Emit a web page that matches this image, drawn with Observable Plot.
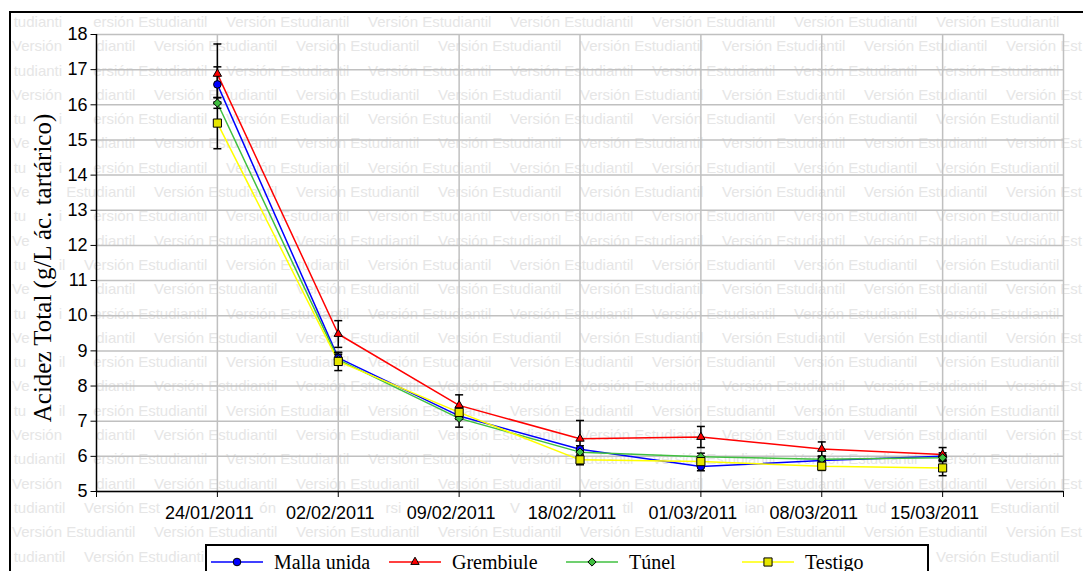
<!DOCTYPE html>
<html><head><meta charset="utf-8">
<script src="https://cdn.jsdelivr.net/npm/d3@7"></script>
<script src="https://cdn.jsdelivr.net/npm/@observablehq/plot@0.6"></script>
<style>
html,body{margin:0;padding:0;background:#fff;overflow:hidden;width:1083px;height:571px;}
#stage{position:relative;width:1083px;height:571px;overflow:hidden;background:#fff;}
#wm{position:absolute;left:0;top:0;}
#frame{position:absolute;left:9px;top:11px;width:1200px;height:700px;border-left:2px solid #000;border-top:2px solid #000;}
#chart{position:absolute;left:0;top:0;}
#title{position:absolute;left:0;top:0;pointer-events:none;}
#legend{position:absolute;left:205px;top:544px;width:720px;height:60px;border:2px solid #000;background:#fff;}
.item{position:absolute;top:3px;height:26px;display:flex;align-items:center;font-family:'Liberation Serif','Times New Roman',serif;font-size:20px;color:#000;white-space:nowrap;}
.item svg{margin-right:11px;}
</style></head><body>
<div id="stage">
  <svg id="wm" width="1083" height="571"></svg>
  <div id="frame"></div>
  <div id="chart"></div>
  <svg id="title" width="1083" height="571"></svg>
  <div id="legend"></div>
</div>
<script>
// ---- data ----
const dates = ["24/01/2011","02/02/2011","09/02/2011","18/02/2011","01/03/2011","08/03/2011","15/03/2011"];
const seriesNames = ["Malla unida","Grembiule","Túnel","Testigo"];
const mallaUnida = [16.58, 8.80, 7.15, 6.20, 5.71, 5.88, 6.00];
const grembiule  = [16.88, 9.48, 7.45, 6.50, 6.55, 6.21, 6.05];
const tunel      = [16.05, 8.75, 7.08, 6.12, 5.99, 5.92, 5.96];
const testigo    = [15.48, 8.70, 7.25, 5.90, 5.85, 5.72, 5.67];
const mallaUnidaErr = [0.50, 0.15, 0.10, 0.10, 0.12, 0.10, 0.10];
const grembiuleErr  = [0.85, 0.38, 0.30, 0.52, 0.30, 0.20, 0.20];
const tunelErr      = [0.15, 0.15, 0.25, 0.10, 0.10, 0.08, 0.08];
const testigoErr    = [0.73, 0.26, 0.15, 0.14, 0.10, 0.12, 0.22];
const yTicks = [5,6,7,8,9,10,11,12,13,14,15,16,17,18];
const yTitle = "Acidez Total (g/L ác. tartárico)";
const watermark = "Versión Estudiantil";

// ---- styles ----
const lineColors = ["#0000ff","#ff0000","#40c040","#ffff00"];
const fillColors = ["#0000ff","#ff0000","#40c040","#e6e600"];
const symbols = ["circle","triangle","diamond2","square"];
const symbolR = [3.8, 3.1, 3.7, 4.6];
const d3Symbols = [d3.symbolCircle, d3.symbolTriangle, d3.symbolDiamond2, d3.symbolSquare];

const valuesList = [mallaUnida, grembiule, tunel, testigo];
const errList = [mallaUnidaErr, grembiuleErr, tunelErr, testigoErr];
const rows = [];
seriesNames.forEach((name, si) => valuesList[si].forEach((v, i) =>
  rows.push({series: name, si, x: i + 1, v, e: errList[si][i]})));

// ---- chart ----
const capSymbol = {draw(ctx, size){ const w = Math.sqrt(size/Math.PI); ctx.moveTo(-w,0); ctx.lineTo(w,0); }};
const gridStyle = {stroke:"#c0c0c0", strokeOpacity:1, strokeWidth:1.5};
const marks = [
  Plot.gridY(yTicks, gridStyle),
  Plot.gridX(d3.range(1, dates.length + 2), gridStyle),
  Plot.ruleX([0], {stroke:"#000", strokeWidth:1.5}),
  Plot.ruleY([5], {stroke:"#000", strokeWidth:1.5}),
  Plot.axisY(yTicks, {tickSize:6, tickPadding:3, fontSize:18, label:null, stroke:"#000"}),
  Plot.axisX(d3.range(0, dates.length + 2), {tickSize:6, tickFormat:() => "", label:null, stroke:"#000"}),
  Plot.text(dates, {x:(d,i) => i + 1, y:() => 5, text:d => d, dy:22, dx:-8, fontSize:18, fill:"#000"})
];
seriesNames.forEach((name, si) => {
  marks.push(Plot.line(rows.filter(r => r.si === si), {x:"x", y:"v", stroke:lineColors[si], strokeWidth:1.5}));
});
marks.push(Plot.ruleX(rows, {x:"x", y1:d => d.v - d.e, y2:d => d.v + d.e, stroke:"#000", strokeWidth:1.5}));
marks.push(Plot.dot(rows, {x:"x", y:d => d.v + d.e, symbol:capSymbol, r:4, stroke:"#000", fill:"none", strokeWidth:1.5}));
marks.push(Plot.dot(rows, {x:"x", y:d => d.v - d.e, symbol:capSymbol, r:4, stroke:"#000", fill:"none", strokeWidth:1.5}));
seriesNames.forEach((name, si) => {
  marks.push(Plot.dot(rows.filter(r => r.si === si), {x:"x", y:"v", symbol:symbols[si], r:symbolR[si], fill:fillColors[si], stroke:"#000", strokeWidth:1}));
});

const chart = Plot.plot({
  width:1083, height:530,
  marginLeft:96, marginRight:20, marginTop:34, marginBottom:39,
  style:{background:"transparent", color:"#000", fontFamily:"'Liberation Sans', Arial, sans-serif", overflow:"visible"},
  x:{type:"linear", domain:[0, dates.length + 1]},
  y:{domain:[5, 18]},
  marks
});
document.getElementById("chart").appendChild(chart);

// boxes of tick labels (they hide the watermark, as in the original)
const occluders = [];
d3.select(chart).selectAll('g[aria-label="y-axis tick label"] text, g[aria-label="text"] text').each(function(){
  const b = this.getBBox();
  const r = document.createElementNS("http://www.w3.org/2000/svg","rect");
  r.setAttribute("x", b.x - 3); r.setAttribute("y", b.y);
  r.setAttribute("width", b.width + 6); r.setAttribute("height", b.height);
  r.setAttribute("fill", "#fff"); r.setAttribute("stroke", "none");
  const t = this.getAttribute("transform"); if (t) r.setAttribute("transform", t);
  this.parentNode.insertBefore(r, this);
  const c = r.getBoundingClientRect();
  occluders.push({left:c.left, right:c.right, top:c.top, bottom:c.bottom});
});

// y title
const titleText = d3.select("#title").append("text")
  .attr("transform","translate(42,268) rotate(-90)")
  .attr("text-anchor","middle").attr("dy","0.35em")
  .attr("font-family","'Liberation Serif','Times New Roman',serif").attr("font-size",25)
  .attr("fill","#000").text(yTitle);
{
  const b = titleText.node().getBBox();
  const cx = 42, cy = 268;
  occluders.push({left: cx + b.y + 2, right: cx + b.y + b.height - 2, top: cy - (b.x + b.width), bottom: cy - b.x});
}

// legend
const legendLeft = [4, 182, 359, 535];
const leg = d3.select("#legend");
seriesNames.forEach((name, si) => {
  const it = leg.append("div").attr("class","item").style("left", legendLeft[si] + "px");
  const s = it.append("svg").attr("width",52).attr("height",20);
  s.append("line").attr("x1",0).attr("x2",52).attr("y1",10).attr("y2",10).attr("stroke",lineColors[si]).attr("stroke-width",1.5);
  s.append("path").attr("transform","translate(26,10)")
    .attr("d", d3.symbol(d3Symbols[si], symbolR[si]*symbolR[si]*Math.PI)())
    .attr("fill", fillColors[si]).attr("stroke","#000").attr("stroke-width",1);
  it.append("span").text(name);
});
{
  const c = document.getElementById("legend").getBoundingClientRect();
  occluders.push({left:c.left, right:c.right, top:c.top, bottom:c.bottom});
}

// ---- watermark: only the visible pieces are written ----
const wg = d3.select("#wm").append("g")
  .attr("font-family","'Liberation Sans', Arial, sans-serif").attr("font-size",15).attr("fill","#e6e6e6");
const clip = {left:11, top:13, right:1083, bottom:571};
function hidden(e){
  const top = e.y + 4, bot = e.y + e.height - 4;
  if (e.x < clip.left || e.x + e.width > clip.right || top < clip.top || bot > clip.bottom) return true;
  return occluders.some(o => e.x < o.right && e.x + e.width > o.left && top < o.bottom && bot > o.top);
}
for (let j = 0; j < 23; j++) {
  const y = 21.7 + 24.3 * j;
  const off = (j % 2 === 0) ? 84 : 12;
  for (let k = -1; k < 9; k++) {
    const t = wg.append("text").attr("x", off + 142 * k).attr("y", y).attr("dy","0.35em").text(watermark);
    const node = t.node();
    const n = watermark.length;
    const ext = [];
    for (let c = 0; c < n; c++) { const r = node.getExtentOfChar(c); ext.push({x:r.x, y:r.y, width:r.width, height:r.height}); }
    t.remove();
    let start = -1;
    for (let c = 0; c <= n; c++) {
      const vis = c < n && !hidden(ext[c]);
      if (vis && start < 0) start = c;
      if (!vis && start >= 0) {
        const piece = watermark.slice(start, c);
        const lead = piece.length - piece.trimStart().length;
        const txt = piece.trim();
        if (txt.length) {
          wg.append("text").attr("x", ext[start + lead].x).attr("y", y).attr("dy","0.35em").text(txt);
        }
        start = -1;
      }
    }
  }
}
</script>
</body></html>
